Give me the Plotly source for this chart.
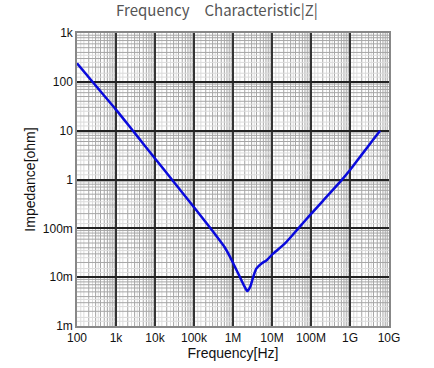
import plotly.graph_objects as go

# Data (frequency in Hz, impedance in ohm)
freq_hz = [100, 300, 1e3, 3e3, 1e4, 3e4, 1e5, 3e5, 6e5, 8.4e5, 1.2e6, 1.5e6,
           2.0e6, 2.35e6, 2.75e6, 3.3e6, 4.0e6, 5.4e6, 7.3e6, 1.08e7, 2.15e7,
           5e7, 9.4e7, 2e8, 6.1e8, 1e9, 2e9, 4e9, 5.9e9]
impedance_ohm = [240, 84, 27, 9, 2.7, 0.9, 0.27, 0.088, 0.042, 0.026, 0.0145, 0.0101,
                 0.0063, 0.0052, 0.0063, 0.0101, 0.0151, 0.0191, 0.0223, 0.0306, 0.0491,
                 0.105, 0.186, 0.362, 0.97, 1.56, 3.23, 6.67, 10.0]

x_tick_vals = [1e2, 1e3, 1e4, 1e5, 1e6, 1e7, 1e8, 1e9, 1e10]
x_tick_text = ["100", "1k", "10k", "100k", "1M", "10M", "100M", "1G", "10G"]
y_tick_vals = [1e-3, 1e-2, 1e-1, 1, 10, 100, 1000]
y_tick_text = ["1m", "10m", "100m", "1", "10", "100", "1k"]

minor_digits = [2, 3, 4, 5, 6, 7, 8, 9]
fine_digits = [1.25, 1.5, 2.5, 3.5]

x_minor = [d * 10 ** e for e in range(2, 10) for d in minor_digits]
x_fine = [d * 10 ** e for e in range(2, 10) for d in fine_digits]
y_minor = [d * 10.0 ** e for e in range(-3, 3) for d in minor_digits]
y_fine = [d * 10.0 ** e for e in range(-3, 3) for d in fine_digits]

fig = go.Figure()
fig.add_trace(go.Scatter(x=freq_hz, y=impedance_ohm, mode="lines",
                         line=dict(color="#0a0adc", width=2.5, shape="spline", smoothing=0.7),
                         showlegend=False))

# background grid (fine first, then minor), drawn below the axis major gridlines
for vals, col in ((x_fine, "#dcdcdc"), (x_minor, "#a6a6a6")):
    for v in vals:
        fig.add_shape(type="line", xref="x", yref="paper", x0=v, x1=v, y0=0, y1=1,
                      line=dict(color=col, width=1), layer="below")
for vals, col in ((y_fine, "#dcdcdc"), (y_minor, "#a6a6a6")):
    for v in vals:
        fig.add_shape(type="line", xref="paper", yref="y", x0=0, x1=1, y0=v, y1=v,
                      line=dict(color=col, width=1), layer="below")

tick_font = dict(family="Liberation Sans, Arial", size=12, color="#111")
fig.update_layout(
    width=434, height=368,
    margin=dict(l=77, r=45, t=33, b=42, autoexpand=False),
    paper_bgcolor="white", plot_bgcolor="white",
    title=dict(text="Frequency\u3000Characteristic|Z|", x=0.5, xanchor="center",
               y=0.970, yanchor="middle", automargin=False,
               font=dict(family="Noto Sans CJK JP, Noto Sans", size=15, color="#555")),
    xaxis=dict(type="log", range=[2, 10], tickvals=x_tick_vals, ticktext=x_tick_text,
               showgrid=True, gridcolor="#333", gridwidth=2, ticks="", tickfont=tick_font,
               showline=True, linecolor="#888", linewidth=1.5, mirror=True, automargin=False,
               title=dict(text="Frequency[Hz]", standoff=2,
                          font=dict(family="Liberation Sans, Arial", size=14, color="#111")),
               zeroline=False),
    yaxis=dict(type="log", range=[-3, 3], tickvals=y_tick_vals, ticktext=y_tick_text,
               showgrid=True, gridcolor="#222", gridwidth=1.5, ticks="", tickfont=tick_font,
               showline=True, linecolor="#888", linewidth=1.5, mirror=True, automargin=False,
               title=dict(text="Impedance[ohm]", standoff=4,
                          font=dict(family="Liberation Sans, Arial", size=14, color="#111")),
               zeroline=False, ticklabelstandoff=0),
)
fig.write_html("out.html", config={"displayModeBar": False},
               post_script="document.body.style.margin='0';")
